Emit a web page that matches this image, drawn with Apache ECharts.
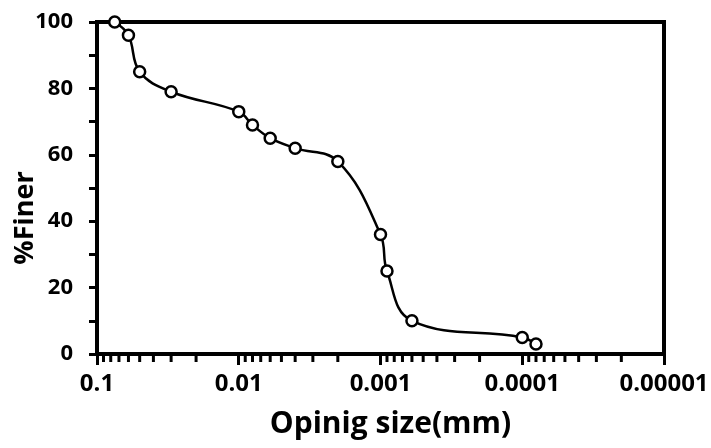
<!DOCTYPE html>
<html>
<head>
<meta charset="utf-8">
<script src="https://cdn.jsdelivr.net/npm/echarts@6/dist/echarts.min.js"></script>
<style>
  html, body { margin: 0; padding: 0; background: #fff; }
  #chart { width: 711px; height: 448px; }
</style>
</head>
<body>
<div id="chart"></div>
<script>
// opening size (mm) and % finer
const sizes = [0.075, 0.06, 0.05, 0.03, 0.01, 0.008, 0.006, 0.004, 0.002, 0.001, 0.0009, 0.0006, 0.0001, 0.00008];
const finer = [100, 96, 85, 79, 73, 69, 65, 62, 58, 36, 25, 10, 5, 3];

// axis decades, minor ticks sit at 2..9 of each decade
const decades = [0.1, 0.01, 0.001, 0.0001];
const minorMult = [2, 3, 4, 5, 6, 7, 8, 9];

const FONT = '"Open Sans", Lato, sans-serif';

let minorTicks = [];
decades.forEach(d => minorMult.forEach(m => minorTicks.push(+(d * m / 10).toPrecision(3))));

let points = sizes.map((s, i) => [s, finer[i]]);

let chart = echarts.init(document.getElementById('chart'));

let option = {
  backgroundColor: '#fff',
  animation: false,
  grid: {
    left: 97,
    right: 47,
    top: 22,
    bottom: 94,
    outerBoundsMode: 'none',
    show: true,
    borderColor: '#000',
    borderWidth: 4
  },
  xAxis: {
    type: 'log',
    logBase: 10,
    min: 0.00001,
    max: 0.1,
    inverse: true,
    name: 'Opinig size(mm)',
    nameLocation: 'middle',
    nameGap: 55,
    nameMoveOverlap: false,
    nameTextStyle: {
      color: '#000',
      fontFamily: FONT,
      fontWeight: 'bold',
      fontSize: 30,
      padding: [0, 0, 0, 20]
    },
    axisLine: { lineStyle: { color: '#000', width: 4 } },
    axisTick: { show: true, length: 11, lineStyle: { color: '#000', width: 3 } },
    splitLine: { show: false },
    axisLabel: {
      color: '#000',
      fontFamily: FONT,
      fontWeight: 'bold',
      fontSize: 24,
      margin: 18,
      showMinLabel: true,
      showMaxLabel: true,
      formatter: function (v) {
        let e = Math.round(-Math.log10(v));
        return v.toFixed(e);
      }
    }
  },
  yAxis: {
    type: 'value',
    min: 0,
    max: 100,
    interval: 20,
    name: '%Finer',
    nameLocation: 'middle',
    nameGap: 58,
    nameMoveOverlap: false,
    nameTextStyle: {
      color: '#000',
      fontFamily: FONT,
      fontWeight: 'bold',
      fontSize: 27,
      padding: [0, 60, 0, 0]
    },
    axisLine: { show: true, lineStyle: { color: '#000', width: 4 } },
    axisTick: { show: true, length: 8, lineStyle: { color: '#000', width: 3 } },
    minorTick: { show: true, splitNumber: 2, length: 8, lineStyle: { color: '#000', width: 3 } },
    splitLine: { show: false },
    axisLabel: {
      color: '#000',
      fontFamily: FONT,
      fontWeight: 'bold',
      fontSize: 22,
      margin: 24
    }
  },
  series: [
    {
      type: 'line',
      data: points,
      smooth: 0.4,
      clip: false,
      symbol: 'circle',
      symbolSize: 11,
      showAllSymbol: true,
      lineStyle: { color: '#000', width: 2.5 },
      itemStyle: { color: '#fff', borderColor: '#000', borderWidth: 2.5 },
      z: 5
    }
  ]
};

chart.setOption(option);

// minor log ticks under the x axis, placed with the axis scale
let y0 = chart.convertToPixel({ yAxisIndex: 0 }, 0);
let tickEls = minorTicks.map(v => {
  let x = chart.convertToPixel({ xAxisIndex: 0 }, v);
  return {
    type: 'line',
    silent: true,
    z: 10,
    shape: { x1: x, y1: y0, x2: x, y2: y0 + 8 },
    style: { stroke: '#000', lineWidth: 3 }
  };
});
chart.setOption({ graphic: { elements: tickEls } });
</script>
</body>
</html>
